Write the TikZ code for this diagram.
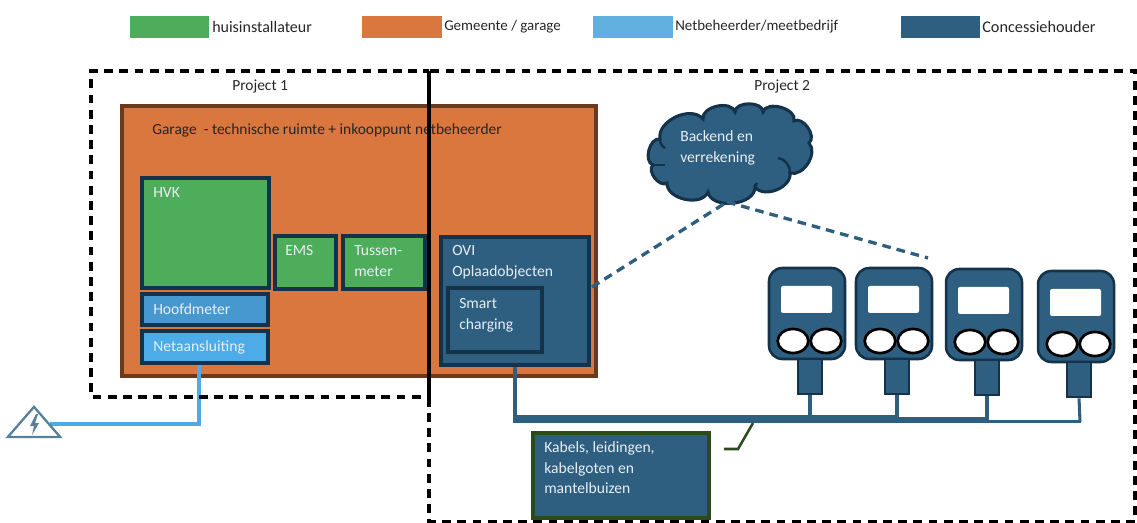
\documentclass[tikz,border=0pt]{standalone}
\usepackage{fontspec}
\setmainfont{Carlito}
\usetikzlibrary{fit,shapes.geometric}
\definecolor{cGreen}{HTML}{4EAD5B}
\definecolor{cOrange}{HTML}{D9773F}
\definecolor{cLight}{HTML}{62B0DF}
\definecolor{cNet}{HTML}{4BACE8}
\definecolor{cMeter}{HTML}{4898D0}
\definecolor{cDark}{HTML}{2E5F80}
\definecolor{cLine}{HTML}{14324A}
\definecolor{cBrown}{HTML}{6B3A1E}
\definecolor{cMoss}{HTML}{2B4A1E}
\definecolor{cPale}{HTML}{E6EEF3}
\definecolor{cInk}{HTML}{262626}
\tikzset{
  box/.style={draw=cLine,line width=2.3pt,inner sep=0pt,fill=#1},
  legendbox/.style={inner sep=0pt,fill=#1},
  boxtext/.style={anchor=north west,inner sep=0pt,align=left,text=cPale,font=\fontsize{11.7}{15.7}\selectfont},
  inktext/.style={anchor=west,inner sep=0pt,text=cInk,font=\fontsize{11.6}{15.7}\selectfont},
  frame/.style={draw=black,line width=2.5pt,dash pattern=on 6.6pt off 4.8pt},
  charger/.style={draw=cLine,line width=1.9pt,inner sep=0pt,fill=cDark,rounded corners=10pt},
  socket/.style={draw=black,line width=2pt,fill=white,ellipse,inner sep=0pt,minimum width=23pt,minimum height=18pt},
  cablelink/.style={draw=cDark,line width=2.3pt},
  datalink/.style={draw=cDark,line width=2.5pt,dash pattern=on 6.5pt off 4.5pt},
  puffline/.style={cLine,line width=1.9pt},
}
\newcommand{\chargerunit}[3]{% name, x, y
  \begin{scope}[shift={(#2,#3)}]
    \node[fit={(769,268)(845,359)},charger] (#1body) {};
    \node[fit={(781,286)(832,313)},fill=white,inner sep=0pt,rounded corners=1.5pt] (#1screen) {};
    \node[socket] (#1a) at (793,341) {};
    \node[socket] (#1b) at (826,341) {};
    \node[fit={(798,359)(822,394)},draw=cLine,line width=2pt,fill=cDark,inner sep=0pt] (#1stem) {};
  \end{scope}}
\begin{document}
\begin{tikzpicture}[x=0.75pt,y=-0.75pt]
\useasboundingbox (0,0) rectangle (1137,523);
% legend
\node[fit={(130,16)(209,38)},legendbox=cGreen] (lg1) {};
\node[inktext,font=\fontsize{12}{15}\selectfont] (lt1) at (212,27) {huisinstallateur};
\node[fit={(362,16)(442,38)},legendbox=cOrange] (lg2) {};
\node[inktext,font=\fontsize{11.2}{15}\selectfont] (lt2) at (444,27) {Gemeente / garage};
\node[fit={(593,16)(673,38)},legendbox=cLight] (lg3) {};
\node[inktext,font=\fontsize{11.2}{15}\selectfont] (lt3) at (675,27) {Netbeheerder/meetbedrijf};
\node[fit={(901,16)(980,38)},legendbox=cDark] (lg4) {};
\node[inktext,font=\fontsize{12.2}{15}\selectfont] (lt4) at (982,27) {Concessiehouder};
% garage
\node[fit={(122,106)(596,376)},box=cOrange,draw=cBrown] (garage) {};
\node[inktext] (garagetxt) at (152,130) {Garage\ \ - technische ruimte + inkooppunt netbeheerder};
% net cable
\coordinate (netdown) at (199,363);
\coordinate (netcorner) at (199,424);
\coordinate (gridend) at (50,424);
\draw[draw=cNet,line width=2.5pt,line join=miter] (netdown) -- (netcorner) -- (gridend);
% green and blue boxes
\node[fit={(142,178)(269,288)},box=cGreen] (hvk) {};
\node[boxtext] (hvktxt) at (153,187) {HVK};
\node[fit={(275,236)(336,289)},box=cGreen] (ems) {};
\node[boxtext] (emstxt) at (285,245) {EMS};
\node[fit={(343,236)(425,289)},box=cGreen] (tussen) {};
\node[boxtext] (tussentxt) at (354,245) {Tussen-\\meter};
\node[fit={(142,294)(268,325)},box=cMeter] (hoofd) {};
\node[boxtext] (hoofdtxt) at (153,303) {Hoofdmeter};
\node[fit={(142,331)(268,363)},box=cNet] (netaan) {};
\node[boxtext] (netaantxt) at (153,340) {Netaansluiting};
\node[fit={(441,237)(589,365)},box=cDark] (ovi) {};
\node[boxtext] (ovitxt) at (452,245) {OVI\\Oplaadobjecten};
\node[fit={(448,288)(542,352)},box=cDark] (smart) {};
\node[boxtext] (smarttxt) at (459,298) {Smart\\charging};
% grid symbol
\node[draw=cDark!80!white,line width=1.7pt,isosceles triangle,isosceles triangle apex angle=82,shape border rotate=90,inner sep=0pt,minimum height=22.5pt,minimum width=36pt,fill=white] (grid) at (34,425) {};
\fill[cDark!80!white] (36,414) -- (30,426) -- (34,426) -- (32,435) -- (39,423) -- (35,423) -- (38,414) -- cycle;
% chargers
\chargerunit{ca}{0}{0}
\chargerunit{cb}{87}{0}
\chargerunit{cc}{177}{1}
\chargerunit{cd}{269}{3}
% cloud
\coordinate (v1) at (660,139);
\coordinate (v2) at (703,119);
\coordinate (v3) at (735,112);
\coordinate (v4) at (763,112);
\coordinate (v5) at (794,121);
\coordinate (v6) at (809,143);
\coordinate (v7) at (790,173);
\coordinate (v8) at (755,187);
\coordinate (v9) at (708,192);
\coordinate (v10) at (667,183);
\coordinate (v11) at (653,165);
\draw[draw=cLine,line width=2.3pt,fill=cDark]
  (v1) to[bend left=75] (v2) to[bend left=85] (v3) to[bend left=90] (v4)
  to[bend left=90] (v5) to[bend left=85] (v6) to[bend left=75] (v7)
  to[bend left=75] (v8) to[bend left=85] (v9) to[bend left=80] (v10)
  to[bend left=85] (v11) to[bend left=85] (v1) -- cycle;
\draw[puffline] (778,158) to[bend left=40] (v7);
\draw[puffline] (v11) -- (665,165);
\draw[puffline] (v1) to[bend right=30] (665,148);
\draw[puffline] (v8) to[bend right=20] (757,183);
\node[boxtext] (cloudtxt) at (680,130) {Backend en\\verrekening};
% cables
\coordinate (busa) at (515,419.2);
\coordinate (jA) at (810,419.2);
\coordinate (jB) at (897,419.2);
\coordinate (jB2) at (897,420.2);
\coordinate (jC) at (987,420.2);
\coordinate (jC2) at (987,421.7);
\coordinate (jD) at (1080,421.7);
\draw[draw=cDark,line width=2.5pt] (ovi.south -| busa) -- (busa);
\draw[draw=cDark,line width=6pt] ([xshift=-1.2pt]busa) -- (jB);
\draw[draw=cDark,line width=4.5pt] (jB2) -- (jC);
\draw[draw=cDark,line width=2.4pt] (jC2) -- ([xshift=1pt]jD);
\draw[cablelink] (castem.south) -- (jA);
\draw[cablelink] (cbstem.south) -- (jB);
\draw[cablelink] (ccstem.south) -- (jC);
\draw[cablelink] (cdstem.south) -- (jD);
% data links
\coordinate (cloudfoot) at (727,202);
\coordinate (ovitap) at (592,287);
\coordinate (dataend) at (928,258);
\draw[datalink] (ovitap) -- (cloudfoot);
\draw[datalink] (cloudfoot) -- (dataend);
% cable box
\node[fit={(533,433)(709,518)},box=cDark,draw=cMoss] (kabels) {};
\node[boxtext] (kabeltxt) at (544,441) {Kabels, leidingen,\\kabelgoten en\\mantelbuizen};
\coordinate (callend) at (724,449);
\coordinate (callknee) at (738,449);
\coordinate (calltop) at (753,423);
\draw[draw=cMoss,line width=1.9pt] (callend) -- (callknee) -- (calltop);
% project frames
\coordinate (p1a) at (429,71);
\coordinate (p1b) at (429,397);
\coordinate (p1c) at (91,397);
\coordinate (p1d) at (91,71);
\coordinate (p2a) at (429,521.5);
\coordinate (p2b) at (1135,521.5);
\coordinate (p2c) at (1135,71);
\draw[frame] (p1a) -- (p1b) -- (p1c) -- (p1d) -- cycle;
\draw[frame,dash phase=5.7pt] (p1a) -- (p2a) -- (p2b) -- (p2c) -- cycle;
\node[inktext] (p1txt) at (232,87) {Project 1};
\node[inktext] (p2txt) at (754,87) {Project 2};
\end{tikzpicture}
\end{document}
